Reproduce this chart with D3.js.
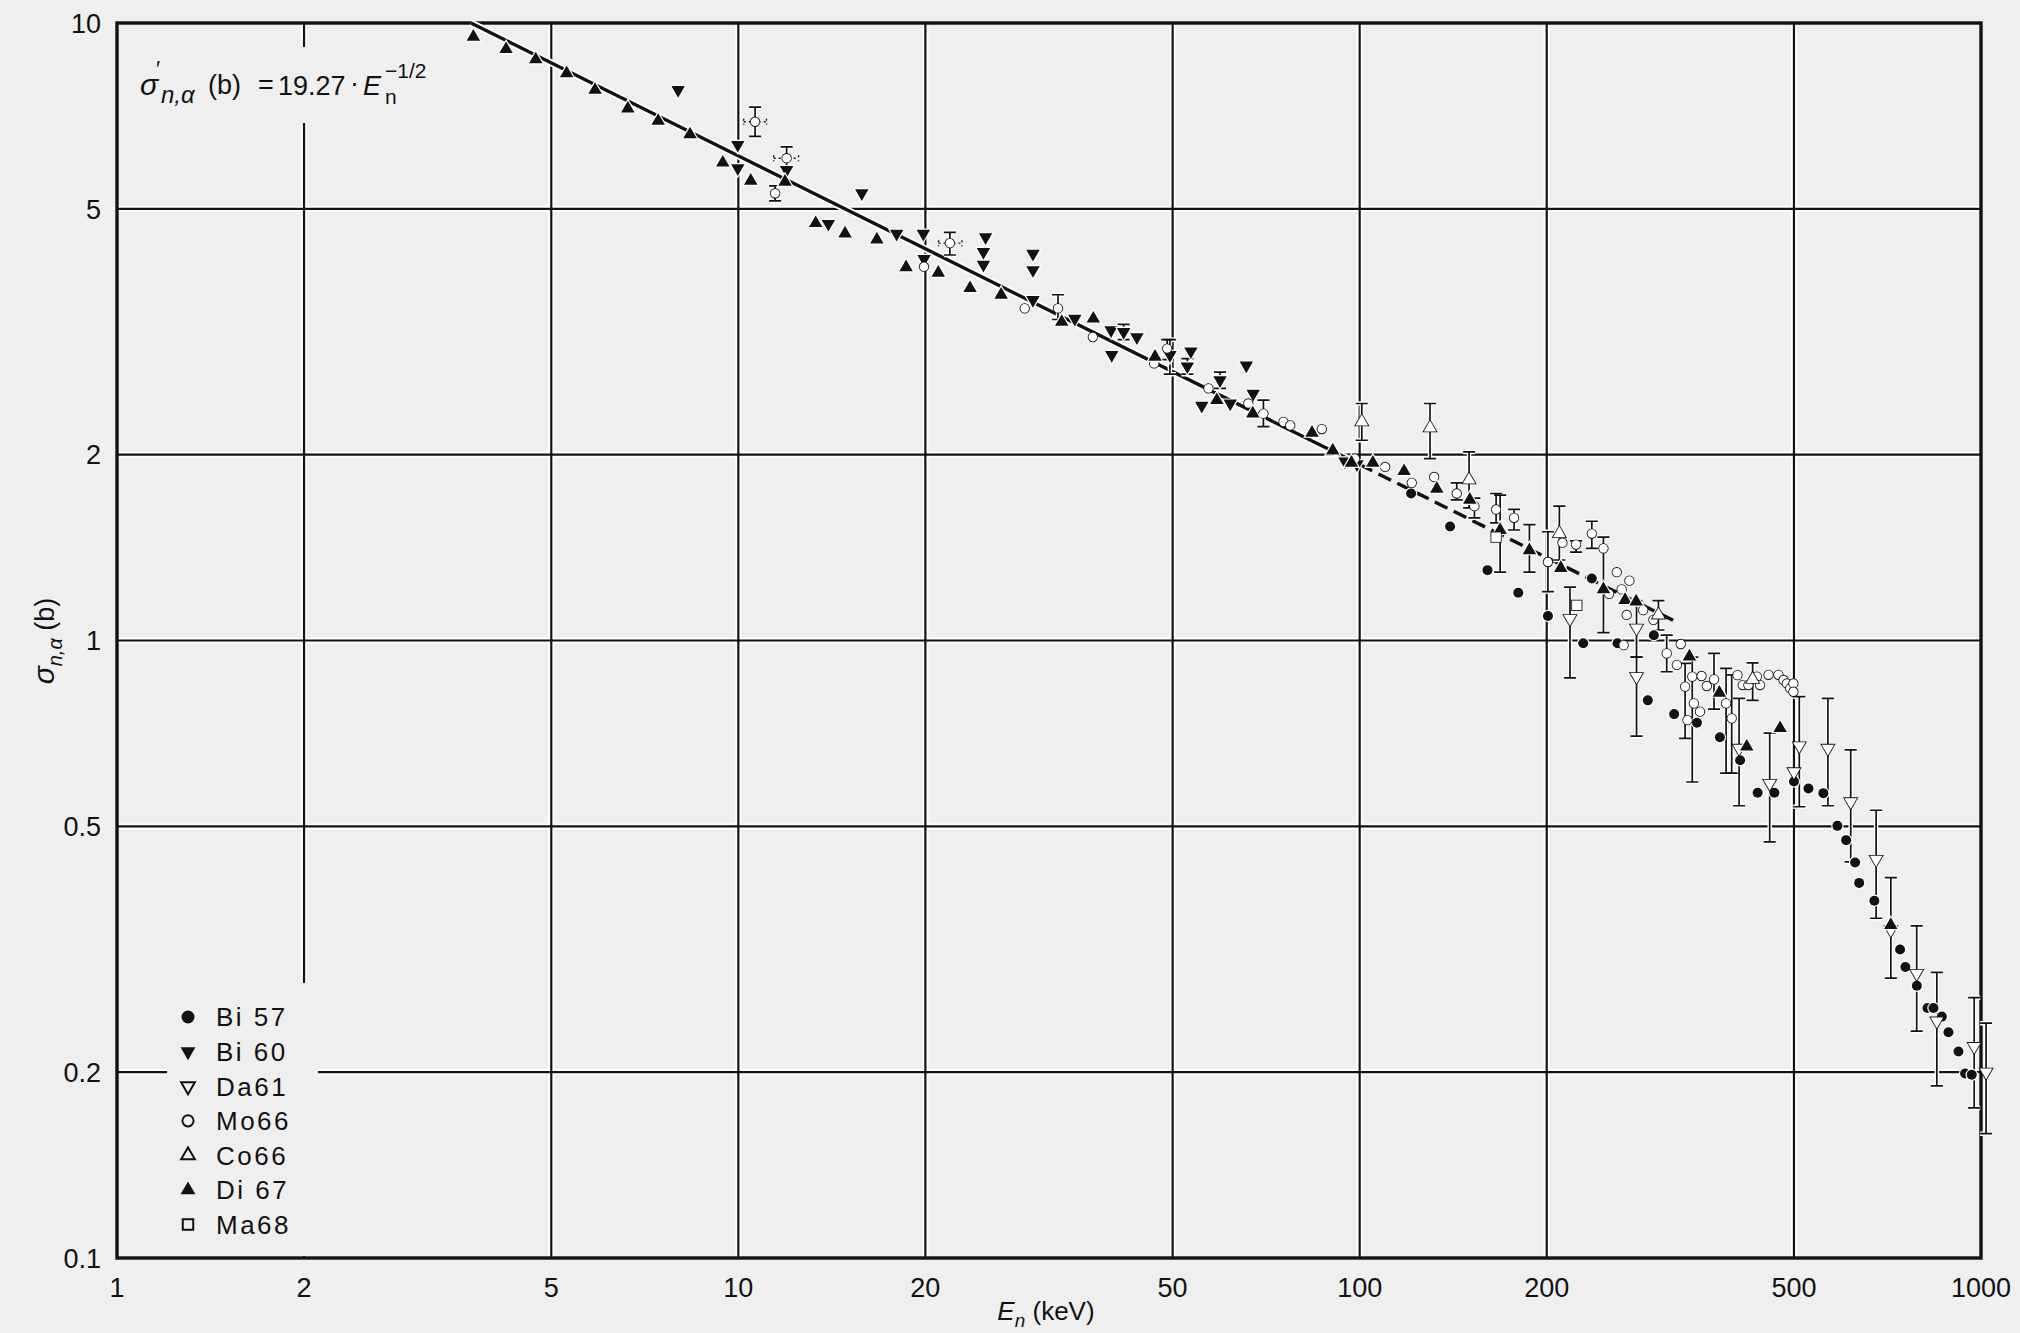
<!DOCTYPE html>
<html><head><meta charset="utf-8">
<script src="https://cdn.jsdelivr.net/npm/d3@7"></script>
<style>body{margin:0;background:#efefef}svg{display:block}</style>
</head><body>
<svg id="c" width="2020" height="1333"></svg>
<script>
// ---------- data (E in keV, sigma in barn, optional [lo, hi] error) ----------
const xTicks = [1, 2, 5, 10, 20, 50, 100, 200, 500, 1000];
const yTicks = [0.1, 0.2, 0.5, 1, 2, 5, 10];
const xGrid = [2, 5, 10, 20, 50, 100, 200, 500];
const yGrid = [0.2, 0.5, 1, 2, 5];
const legendNames = ["Bi 57", "Bi 60", "Da61", "Mo66", "Co66", "Di 67", "Ma68"];

const bi57 = [[121,1.73],[139.8,1.53],[160.6,1.30],[180,1.195],[200.9,1.096],[229,0.99],[236.4,1.26],[260,0.99],
  [297.5,1.02],[290.9,0.80],[320.7,0.76],[349,0.736],[380,0.697],[409.6,0.64],[437,0.567],[465,0.567],[500,0.591],
  [527.6,0.576],[557.5,0.566],[587.4,0.501],[606.7,0.475],[627.2,0.437],[636.6,0.405],[673.5,0.379],[740.9,0.316],
  [755.6,0.296],[788.4,0.276],[820,0.254],[838.5,0.254],[864.9,0.246],[886.5,0.232],[919.8,0.216],[942.8,0.199],[966.3,0.198]];

const bi60 = [[8.0,7.79],[9.98,6.35],[9.98,5.82],[11.96,5.78],[13.96,4.73],[15.8,5.30],[17.98,4.56],[19.85,4.56],
  [19.9,4.15],[25.0,4.50],[24.8,4.26],[24.8,4.06],[29.8,4.23],[29.8,3.98],[29.8,3.56],[34.8,3.32],[39.8,3.18],
  [41.7,3.16,3.07,3.25],[43.8,3.10],[39.9,2.90],[49.5,2.90,2.70,3.07],[53.5,2.94],[52.8,2.78,2.70,2.86],[65.7,2.79],
  [55.7,2.40],[59.6,2.64,2.56,2.72],[61.9,2.42],[67.4,2.51],[94.7,1.95],[99,1.93]];

const da61 = [[218,1.085,0.87,1.22],[279,1.047,0.94,1.16],[279,0.874,0.70,0.94],[408,0.669,0.54,0.806],
  [457,0.587,0.472,0.708],[500,0.613],[510,0.675,0.538,0.811],[567,0.669,0.54,0.806],[617,0.548,0.438,0.665],
  [678,0.442,0.355,0.531],[716,0.340,0.284,0.413],[788,0.289,0.233,0.345],[849,0.242,0.19,0.290],
  [975,0.220,0.175,0.264],[1019,0.200,0.159,0.240]];

const mo66 = [[10.64,6.92,6.55,7.31],[11.96,6.04,5.85,6.30],[11.46,5.30,5.15,5.45],[19.9,4.03],[21.9,4.40,4.21,4.58],
  [28.9,3.45],[32.7,3.45,3.31,3.63],[37.2,3.10],[46.7,2.81],[49.0,2.97,2.85,3.07],[57.1,2.56],[66.2,2.42],
  [70.0,2.33,2.22,2.45],[75.4,2.26],[77.3,2.23],[86.9,2.20],[98.3,1.97],[109.9,1.91],[121.3,1.80],[131.8,1.84],
  [143.3,1.73,1.69,1.80],[153,1.65,1.58,1.70],[165.8,1.63,1.55,1.73],[177.2,1.58,1.51,1.63],[200.9,1.34,1.20,1.50],
  [212,1.44],[223,1.43,1.39,1.45],[236.4,1.49,1.41,1.56],[246.8,1.41,1.03,1.47],[259.3,1.29],[271.7,1.25],
  [264,1.21],[252,1.19],[269,1.10],[286,1.12],[297,1.08],[266,0.983],[312,0.953,0.89,1.02],[324,0.913],
  [328.7,0.987],[334,0.842,0.694,0.918],[343,0.874,0.59,0.94],[345,0.791],[353,0.767],[337,0.743],[355,0.876],
  [362,0.844],[371.8,0.865,0.774,0.953],[388.8,0.791,0.61,0.901],[397,0.748,0.61,0.88],[405.6,0.879],
  [413.6,0.847],[422.3,0.847],[435.7,0.874],[441,0.847],[455,0.880],[472,0.880],[481,0.863],[487,0.852],
  [493,0.837],[499,0.852],[499,0.826]];
// horizontal (energy) error bars: [E, sigma, Elo, Ehi]
const mo66XErr = [[10.64,6.92,10.2,11.1],[11.96,6.04,11.4,12.5],[21.9,4.40,21.0,22.9]];

const co66 = [[100.8,2.26,2.11,2.42],[129.8,2.21,1.97,2.42],[150,1.82,1.64,2.02],[209.6,1.49,1.35,1.65],
  [302.6,1.10,1.04,1.16],[429,0.865,0.80,0.92]];

const di67 = [[3.746,9.50],[4.228,9.07],[4.72,8.73],[5.293,8.29],[5.88,7.79],[6.64,7.27],[7.43,6.94],[8.36,6.60],
  [9.44,5.94],[10.47,5.55],[11.89,5.53],[13.32,4.74],[14.85,4.56],[16.71,4.46],[18.62,4.02],[20.98,3.94],
  [23.6,3.72],[26.48,3.63],[33.15,3.28],[37.27,3.32],[46.84,2.88],[58.9,2.45],[67.3,2.33],[83.8,2.17],
  [90.5,2.03],[97,1.94],[105,1.94],[117.9,1.88],[133.1,1.76],[150.4,1.69],[168.3,1.51,1.29,1.72],
  [187.6,1.40,1.29,1.54],[210.7,1.31],[246.8,1.21],[267.4,1.163],[278.6,1.156],[339.4,0.942],[379.3,0.823],
  [419.8,0.673],[475,0.721],[715.8,0.346]];

const ma68 = [[165.8,1.47],[223.6,1.14]];

// fit: sigma' = 19.27 * E^-1/2 ; solid to 100 keV, dashed beyond
const fitCoef = 19.27, fitPow = -0.5;
const fitSolid = [3.713, 100];
const fitDashed = [100, 322];

// ---------- drawing ----------
const W = 2020, H = 1333, BG = "#efefef", INK = "#121212";
const FONT = "'Liberation Sans', Arial, sans-serif";
const svg = d3.select("#c");
const x = d3.scaleLog().domain([1, 1000]).range([117, 1981]);
const y = d3.scaleLog().domain([0.1, 10]).range([1258, 23]);

svg.append("rect").attr("width", W).attr("height", H).attr("fill", BG);

// grid (with white halo as in the print)
const grid = svg.append("g");
function gridLines(color, width) {
  grid.append("g").selectAll("line").data(xGrid).join("line")
    .attr("x1", d => x(d)).attr("x2", d => x(d)).attr("y1", y(10)).attr("y2", y(0.1))
    .attr("stroke", color).attr("stroke-width", width);
  grid.append("g").selectAll("line").data(yGrid).join("line")
    .attr("y1", d => y(d)).attr("y2", d => y(d)).attr("x1", x(1)).attr("x2", x(1000))
    .attr("stroke", color).attr("stroke-width", width);
}
gridLines("#ffffff", 6);
gridLines(INK, 2.2);
svg.append("rect").attr("x", x(1)).attr("y", y(10)).attr("width", x(1000) - x(1)).attr("height", y(0.1) - y(10))
  .attr("fill", "none").attr("stroke", INK).attr("stroke-width", 3.4);

// knock-out boxes behind equation and legend
svg.append("rect").attr("x", 128).attr("y", 47).attr("width", 312).attr("height", 76).attr("fill", BG);
svg.append("rect").attr("x", 167).attr("y", 983).attr("width", 151).attr("height", 273).attr("fill", BG);

// fit line
const fitLine = d3.line().x(d => x(d)).y(d => y(fitCoef * Math.pow(d, fitPow)));
svg.append("path").attr("d", fitLine(fitSolid)).attr("stroke", "#fff").attr("stroke-width", 7).attr("fill", "none");
svg.append("path").attr("d", fitLine(fitSolid)).attr("stroke", INK).attr("stroke-width", 3.4).attr("fill", "none");
svg.append("path").attr("d", fitLine(fitDashed)).attr("stroke", INK).attr("stroke-width", 3.4)
  .attr("stroke-dasharray", "14,7").attr("fill", "none");

// symbol shapes
const shapes = {
  circle: r => `M${r},0A${r},${r} 0 1,1 ${-r},0A${r},${r} 0 1,1 ${r},0Z`,
  up: w => { const h = w * 0.866; return `M0,${-h * 2 / 3}L${w / 2},${h / 3}L${-w / 2},${h / 3}Z`; },
  down: w => { const h = w * 0.866; return `M0,${h * 2 / 3}L${w / 2},${-h / 3}L${-w / 2},${-h / 3}Z`; },
  square: s => `M${-s / 2},${-s / 2}h${s}v${s}h${-s}Z`
};
const series = [
  { name: legendNames[0], data: bi57, shape: "circle", size: 5.0, filled: true },
  { name: legendNames[1], data: bi60, shape: "down", size: 13.5, filled: true },
  { name: legendNames[2], data: da61, shape: "down", size: 12.5, filled: false },
  { name: legendNames[3], data: mo66, shape: "circle", size: 4.3, filled: false },
  { name: legendNames[4], data: co66, shape: "up", size: 12.5, filled: false },
  { name: legendNames[5], data: di67, shape: "up", size: 13.5, filled: true },
  { name: legendNames[6], data: ma68, shape: "square", size: 9.5, filled: false }
];

// error bars
const eb = svg.append("g");
const errPts = series.flatMap(s => s.data.filter(d => d.length >= 4));
[["#fff", 4.5], [INK, 1.7]].forEach(([c, w]) => {
  const gg = eb.append("g").attr("stroke", c).attr("stroke-width", w).attr("fill", "none");
  gg.selectAll("path").data(errPts).join("path")
    .attr("d", d => {
      const cx = x(d[0]), y1 = y(d[2]), y2 = y(d[3]);
      return `M${cx},${y1}V${y2}M${cx - 6},${y1}h12M${cx - 6},${y2}h12`;
    });
});
// horizontal (energy) error bars, dotted
eb.append("g").attr("stroke", INK).attr("stroke-width", 1.4).attr("stroke-dasharray", "2,3")
  .selectAll("path").data(mo66XErr).join("path")
  .attr("d", d => `M${x(d[2])},${y(d[1])}H${x(d[3])}M${x(d[2])},${y(d[1]) - 3}v6M${x(d[3])},${y(d[1]) - 3}v6`);

// markers
const mk = svg.append("g");
series.forEach(s => {
  const p = shapes[s.shape](s.size);
  mk.append("g").selectAll("path").data(s.data).join("path")
    .attr("transform", d => `translate(${x(d[0])},${y(d[1])})`)
    .attr("d", p)
    .attr("fill", s.filled ? INK : "#fff")
    .attr("stroke", s.filled ? "#fff" : INK)
    .attr("stroke-width", s.filled ? 2.4 : 1.7)
    .attr("paint-order", "stroke");
});

// legend
const lg = svg.append("g");
series.forEach((s, i) => {
  const ly = 1017 + i * 34.6;
  const sc = s.shape === "circle" ? 1.3 : 1.1;
  lg.append("path").attr("transform", `translate(188,${ly})`).attr("d", shapes[s.shape](s.size * sc))
    .attr("fill", s.filled ? INK : BG).attr("stroke", INK).attr("stroke-width", s.filled ? 0 : 2);
  lg.append("text").attr("x", 216).attr("y", ly).attr("dy", "0.36em").text(s.name)
    .attr("font-family", FONT).attr("font-size", 26).attr("letter-spacing", 2.5).attr("fill", INK);
});

// tick labels
svg.append("g").selectAll("text").data(xTicks).join("text")
  .attr("x", d => x(d)).attr("y", 1297).attr("text-anchor", "middle")
  .attr("font-family", FONT).attr("font-size", 27).attr("fill", INK).text(d => d);
svg.append("g").selectAll("text").data(yTicks).join("text")
  .attr("x", 101).attr("y", d => y(d)).attr("dy", "0.36em").attr("text-anchor", "end")
  .attr("font-family", FONT).attr("font-size", 27).attr("fill", INK).text(d => d);

// axis titles
const xt = svg.append("text").attr("x", 1046).attr("y", 1320).attr("text-anchor", "middle")
  .attr("font-family", FONT).attr("font-size", 26).attr("fill", INK);
xt.append("tspan").attr("font-style", "italic").text("E");
xt.append("tspan").attr("font-style", "italic").attr("font-size", 19).attr("dy", 7).text("n");
xt.append("tspan").attr("dy", -7).text(" (keV)");

const yt = svg.append("text").attr("transform", "translate(54,641) rotate(-90)").attr("text-anchor", "middle")
  .attr("font-family", FONT).attr("font-size", 27).attr("fill", INK);
yt.append("tspan").attr("font-style", "italic").attr("font-size", 30).text("σ");
yt.append("tspan").attr("font-style", "italic").attr("font-size", 20).attr("dy", 8).text("n,α");
yt.append("tspan").attr("dy", -8).text(" (b)");

// equation
const eq = svg.append("g").attr("font-family", FONT).attr("fill", INK);
eq.append("text").attr("x", 140).attr("y", 95).attr("font-size", 30).attr("font-style", "italic").text("σ");
eq.append("text").attr("x", 156).attr("y", 76).attr("font-size", 22).text("′");
eq.append("text").attr("x", 161).attr("y", 103).attr("font-size", 24).attr("font-style", "italic").text("n,α");
eq.append("text").attr("x", 208).attr("y", 94).attr("font-size", 27).text("(b)");
eq.append("text").attr("x", 258).attr("y", 94).attr("font-size", 27).text("=");
eq.append("text").attr("x", 278).attr("y", 95).attr("font-size", 27).text("19.27");
eq.append("text").attr("x", 350).attr("y", 92).attr("font-size", 27).text("·");
eq.append("text").attr("x", 363).attr("y", 95).attr("font-size", 27).attr("font-style", "italic").text("E");
eq.append("text").attr("x", 385).attr("y", 104).attr("font-size", 21).text("n");
eq.append("text").attr("x", 385).attr("y", 78).attr("font-size", 21).text("−1/2");
</script>
</body></html>
